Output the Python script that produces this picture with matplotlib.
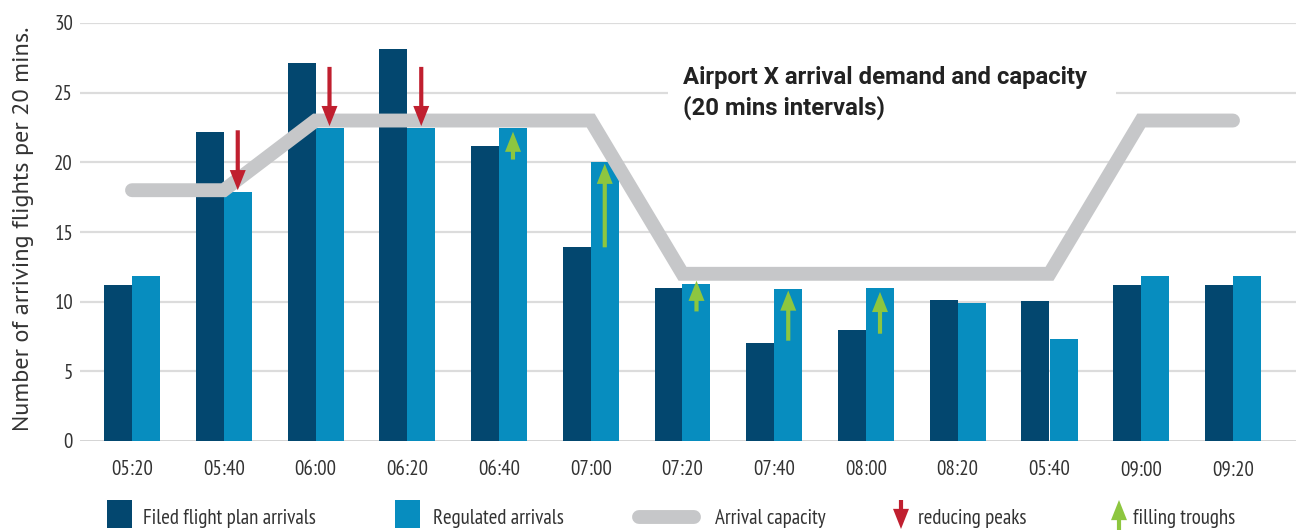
import matplotlib
matplotlib.use("Agg")
import matplotlib.pyplot as plt
from matplotlib.patches import FancyArrowPatch, Rectangle, ArrowStyle
from matplotlib.lines import Line2D

# ---- data ----
categories = ["05:20", "05:40", "06:00", "06:20", "06:40", "07:00", "07:20",
              "07:40", "08:00", "08:20", "05:40", "09:00", "09:20"]
filed = [11.2, 22.2, 27.1, 28.1, 21.2, 13.9, 11.0, 7.0, 8.0, 10.1, 10.05, 11.2, 11.2]
regulated = [11.85, 17.9, 22.5, 22.5, 22.5, 20.0, 11.3, 10.9, 11.0, 9.9, 7.3, 11.85, 11.85]
capacity = [18, 18, 23, 23, 23, 23, 12, 12, 12, 12, 12, 23, 23]
# arrows: (category index, start value, end value)
peak_arrows = [(1, 22.3, 18.0), (2, 26.85, 22.6), (3, 26.85, 22.6)]
trough_arrows = [(4, 20.2, 22.2), (5, 13.9, 19.9), (6, 9.3, 11.5), (7, 7.2, 10.8), (8, 7.7, 10.7)]
yticks = [0, 5, 10, 15, 20, 25, 30]
title = "Airport X arrival demand and capacity\n(20 mins intervals)"
ylabel = "Number of arriving flights per 20 mins."
legend_labels = ["Filed flight plan arrivals", "Regulated arrivals", "Arrival capacity",
                 "reducing peaks", "filling troughs"]

DARK = "#03476f"
LIGHT = "#078dbf"
GREY = "#c6c7c9"
RED = "#c01f2f"
GREEN = "#8dc63f"
TXT = "#333333"
NARROW = ["PT Sans Narrow", "DejaVu Sans"]

W, H = 1296, 530
fig = plt.figure(figsize=(W / 100, H / 100), dpi=100)

def fx(px):
    return px / W

def fy(py):
    return 1 - py / H

ax_left, ax_right, ax_top, ax_bot = 80, 1296, 23, 441
ax = fig.add_axes([fx(ax_left), fy(ax_bot), fx(ax_right - ax_left), (ax_bot - ax_top) / H])

step = 91.75
x0 = -(132 - ax_left) / step
x1 = (ax_right - 132) / step
ax.set_xlim(x0, x1)
ax.set_ylim(0, 30)

xs = list(range(len(categories)))
bw = 28 / step
ax.bar([x - bw / 2 for x in xs], filed, width=bw, color=DARK, zorder=2)
ax.bar([x + bw / 2 for x in xs], regulated, width=bw, color=LIGHT, zorder=2)

# grid
ax.set_yticks(yticks)
for v in yticks:
    ax.axhline(v, color="#dcdcdc" if v else "#d0d0d0", lw=1.6 if v else 2.0, zorder=0.5)

# white box behind title
ax.add_patch(Rectangle(((668 - 132) / step, 24.0), (1116 - 668) / step, 3.6,
                       facecolor="white", edgecolor="none", zorder=1))
ax.text((683 - 132) / step, 25.0, title, fontsize=17.2, fontweight="bold",
        family=["Roboto", "DejaVu Sans"], color="#222222", ha="left", va="center",
        linespacing=1.35, zorder=5)

# capacity line
ax.plot(xs, capacity, color=GREY, lw=10, solid_capstyle="round",
        solid_joinstyle="miter", zorder=3)

def arrow_style():
    return ArrowStyle.Simple(head_length=1.45, head_width=1.15, tail_width=0.3)

for i, a, b in peak_arrows:
    ax.add_patch(FancyArrowPatch((i + bw / 2, a), (i + bw / 2, b), arrowstyle=arrow_style(),
                                 mutation_scale=10, color=RED, shrinkA=0, shrinkB=0,
                                 capstyle="round", zorder=4, lw=0))
for i, a, b in trough_arrows:
    ax.add_patch(FancyArrowPatch((i + bw / 2, a), (i + bw / 2, b), arrowstyle=arrow_style(),
                                 mutation_scale=10, color=GREEN, shrinkA=0, shrinkB=0,
                                 capstyle="round", zorder=4, lw=0))

for s in ax.spines.values():
    s.set_visible(False)
ax.set_xticks(xs)
ax.set_xticklabels(categories)
ax.tick_params(axis="both", length=0, colors=TXT, labelsize=15)
ax.tick_params(axis="x", pad=14)
ax.tick_params(axis="y", pad=5)
for lab in ax.get_xticklabels() + ax.get_yticklabels():
    lab.set_family(NARROW)

fig.text(fx(24), fy(229), ylabel, rotation=90, ha="center", va="center",
         fontsize=17.5, color=TXT, family=["PT Sans", "DejaVu Sans"])

# ---- legend (manual) ----
ly = 517
fig.add_artist(Rectangle((fx(107), fy(528)), fx(25), 28 / H, transform=fig.transFigure,
                         facecolor=DARK, edgecolor="none"))
fig.add_artist(Rectangle((fx(395), fy(528)), fx(25), 28 / H, transform=fig.transFigure,
                         facecolor=LIGHT, edgecolor="none"))
fig.add_artist(Line2D([fx(639), fx(694)], [fy(ly), fy(ly)], transform=fig.transFigure,
                      color=GREY, lw=10, solid_capstyle="round"))
fig.add_artist(FancyArrowPatch((fx(901), fy(500)), (fx(901), fy(529)), transform=fig.transFigure,
                               arrowstyle=arrow_style(), mutation_scale=10, color=RED,
                               shrinkA=0, shrinkB=0, lw=0))
fig.add_artist(FancyArrowPatch((fx(1119), fy(530)), (fx(1119), fy(500)), transform=fig.transFigure,
                               arrowstyle=arrow_style(), mutation_scale=10, color=GREEN,
                               shrinkA=0, shrinkB=0, lw=0))
for px, lab in zip([143, 433, 715, 918, 1133], legend_labels):
    fig.text(fx(px), fy(ly + 1), lab, ha="left", va="center", fontsize=15, color=TXT, family=NARROW)

fig.savefig("out.png", dpi=100, facecolor="white")
